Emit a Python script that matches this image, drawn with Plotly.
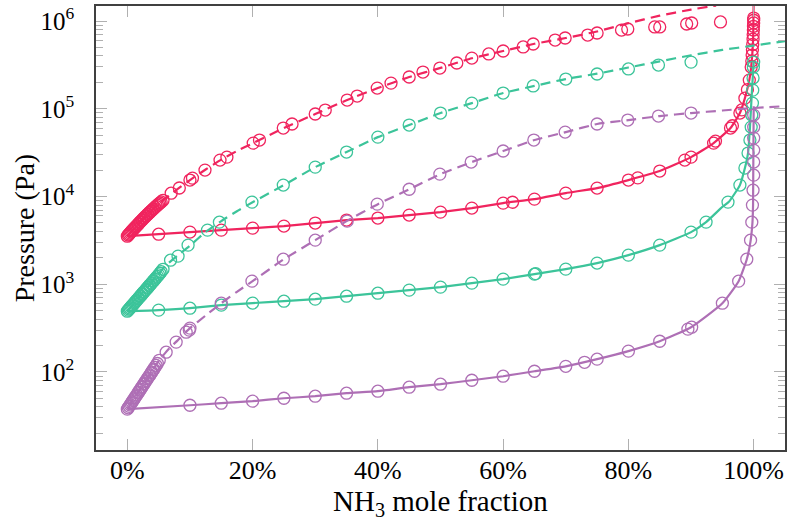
import plotly.graph_objects as go

# NH3 mole fraction in percent, pressure in Pa
RED = "#f0245e"
GREEN = "#3cc49a"
PURPLE = "#ae6fb5"

# ---- red (warmest) ----
red_bub_x = [0, 5, 10, 15, 20, 25, 30, 35, 40, 45, 50, 55, 60, 65, 70, 75, 80, 85, 90,
             93.6, 96.3, 97.8, 98.6, 99.3, 99.6, 99.9, 100]
red_bub_p = [3530, 3720, 3930, 4140, 4360, 4600, 4980, 5390, 5680, 6140, 6640, 7380, 8410,
             9340, 10930, 12470, 15390, 19500, 28100, 40600, 60300, 89300, 132000, 212000,
             300000, 600000, 2000000]
red_dew_x = [0, 1, 2, 3, 4, 5, 6, 7, 8, 10, 12.5, 15, 17.5, 20, 25, 30, 35, 40, 45, 50,
             55, 60, 65, 70, 75, 80, 85, 90, 94]
red_dew_p = [3530, 4250, 5080, 6010, 7050, 8200, 9400, 10700, 12100, 15400, 20300, 26300,
             33000, 40300, 60300, 87100, 125000, 172000, 230000, 292000, 376000, 455000,
             550000, 640000, 760000, 944000, 1150000, 1350000, 1500000]
red_bub_mx = [5, 10, 15, 20, 25, 30, 35, 40, 45, 50, 55, 60, 61.5, 65, 70, 75, 80, 81.5,
              85, 89, 90, 93.6, 93.9, 96.3, 96.6, 97.8, 98.1, 98.6, 99.0, 99.3,
              99.6, 99.7, 99.75, 99.8, 99.85, 99.9, 99.92, 99.95, 99.97, 100, 100, 100]
red_bub_mp = [3720, 3930, 4140, 4360, 4600, 4980, 5390, 5680, 6140, 6640, 7380, 8410, 8600,
              9340, 10930, 12470, 15390, 16300, 19500, 26000, 28100, 40600, 42800, 60300,
              64000, 89300, 97000, 132000, 165000, 212000,
              299000, 350000, 409000, 470000, 540000, 620000, 700000, 790000, 870000,
              950000, 1020000, 1080000]
red_dew_mx = [0.0, 0.15, 0.3, 0.45, 0.6, 0.75, 0.9, 1.05, 1.2, 1.35, 1.5, 1.7, 1.8, 2.0,
              2.1, 2.3, 2.4, 2.6, 2.7, 2.9, 3.0, 3.2, 3.3, 3.5, 3.6, 3.8, 3.9, 4.1, 4.2, 4.4,
              4.6, 4.8, 5.0, 5.2, 5.4, 5.7, 7.0, 8.3, 10.0, 10.4, 12.4, 14.8, 15.9, 20.1,
              21.1, 24.9, 26.3, 30.0, 31.6, 35.1, 36.7, 39.9, 42.1, 45.0, 47.2, 49.9, 52.6,
              55.0, 57.7, 60.0, 63.2, 64.8, 68.3, 69.9, 73.5, 75.0, 78.9, 79.9, 84.2, 85.0,
              89.3, 90.1, 94.7]
red_dew_mp = [3530, 3640, 3740, 3850, 3960, 4070, 4180, 4290, 4400, 4520, 4640, 4800, 4900,
              5080, 5170, 5350, 5440, 5630, 5720, 5910, 6010, 6210, 6310, 6520, 6620, 6830,
              6940, 7160, 7280, 7500, 7730, 7960, 8200, 8430, 8670, 9050, 10900, 12500,
              15400, 16200, 20000, 26000, 28100, 40600, 44000, 60300, 67000, 87100, 96600,
              125600, 139600, 172000, 196000, 230000, 262000, 291000, 332000, 378000,
              421000, 455000, 506000, 547000, 607000, 640000, 692000, 730000, 789000,
              811000, 855000, 855000, 925000, 949000, 975000]

# ---- green ----
green_bub_x = [0, 5, 10, 15, 20, 25, 30, 35, 40, 45, 50, 55, 60, 65, 70, 75, 80, 85, 90,
               92.4, 95, 96, 97.8, 98.6, 99.1, 99.4, 99.7, 100]
green_bub_p = [493, 507, 533, 578, 610, 641, 676, 731, 791, 857, 927, 1030, 1143, 1303, 1486,
               1742, 2148, 2793, 3926, 5105, 7600, 8630, 13490, 21090, 31260, 60000, 150000,
               340000]
green_dew_x = [0, 1, 2, 3, 4, 5, 6, 7, 8, 10, 12.5, 15, 17.5, 20, 25, 30, 35, 40, 45, 50,
               55, 60, 65, 70, 75, 80, 85, 90, 95, 100, 105]
green_dew_p = [493, 600, 730, 890, 1080, 1310, 1600, 1850, 2120, 2750, 3950, 5250, 6800, 8600,
               13500, 21600, 32100, 47500, 65200, 89300, 116000, 151000, 182000, 218000,
               251000, 295000, 347000, 407000, 468000, 525000, 590000]
green_bub_mx = [5, 10, 15, 20, 25, 30, 35, 40, 45, 50, 55, 60, 65, 65.2, 70, 75, 80, 85, 90,
                92.4, 95.9, 97.8, 98.6, 99.1, 99.4, 99.6, 99.7, 99.8, 99.85, 99.9, 99.95, 100]
green_bub_mp = [507, 533, 578, 610, 641, 676, 731, 791, 857, 927, 1030, 1143, 1303, 1320,
                1486, 1742, 2148, 2793, 3926, 5105, 8630, 13490, 21090, 31260, 44000, 61800,
                84700, 116000, 163000, 224000, 298000, 340000]
green_dew_mx = [0.0, 0.15, 0.3, 0.45, 0.6, 0.75, 0.9, 1.05, 1.2, 1.35, 1.5, 1.7, 1.8, 2.0,
                2.1, 2.3, 2.4, 2.6, 2.7, 2.9, 3.0, 3.2, 3.3, 3.5, 3.6, 3.8, 3.9, 4.1, 4.2,
                4.4, 4.6, 4.8, 5.0, 5.2, 5.4, 5.7, 6.9, 8.1, 9.7, 12.8, 14.7, 19.9, 24.9,
                30.0, 35.0, 40.0, 45.0, 50.0, 55.0, 60.0, 64.8, 70.0, 75.0, 80.0, 84.8, 90.0]
green_dew_mp = [493, 507, 522, 537, 553, 569, 585, 602, 620, 638, 656, 682, 695, 722, 736,
                765, 779, 810, 825, 857, 873, 907, 925, 960, 979, 1017, 1037, 1077, 1098,
                1140, 1185, 1230, 1280, 1335, 1390, 1480, 1880, 2090, 2790, 4140, 5100, 8630,
                13490, 21600, 32100, 47500, 65200, 89300, 116000, 151000, 182000, 218000,
                249000, 284000, 315000, 340000]

# ---- purple (coldest) ----
purple_bub_x = [0, 10, 15, 20, 25, 30, 35, 40, 45, 50, 55, 60, 65, 70, 75, 80, 85, 90, 95,
                97.6, 98.9, 99.5, 99.8, 99.9, 100]
purple_bub_p = [37.7, 41.8, 44.1, 46.5, 50.2, 53, 57.3, 60.4, 67.1, 72.6, 80.5, 89.5, 102,
                116, 140, 173, 224, 324, 608, 1084, 1930, 3100, 5000, 8000, 107000]
purple_dew_x = [0, 1, 2, 3, 4, 5, 6, 7, 8, 10, 12.5, 15, 17.5, 20, 25, 30, 35, 40, 45, 50,
                55, 60, 65, 70, 75, 80, 85, 90, 95, 100, 105]
purple_dew_p = [37.7, 48.6, 62.5, 80.5, 104, 134, 163, 196, 228, 316, 440, 608, 820, 1085,
                1930, 3180, 5240, 8180, 12100, 18000, 24700, 33000, 44000, 54200, 67000,
                74300, 82600, 89300, 95500, 102000, 107000]
purple_bub_mx = [10, 15, 20, 25, 30, 35, 40, 45, 50, 55, 60, 65, 70, 73, 75, 80, 85, 89.5,
                 90.1, 95, 97.6, 98.9, 99.5, 99.7, 99.8, 99.9, 100, 100, 100, 100, 100, 100]
purple_bub_mp = [41.8, 44.1, 46.5, 50.2, 53, 57.3, 60.4, 67.1, 72.6, 80.5, 89.5, 102, 116,
                 129, 140, 173, 224, 308, 324, 608, 1084, 1930, 3180, 5100, 7980, 11800,
                 17500, 24700, 33800, 46300, 61800, 84700]
purple_dew_mx = [0.0, 0.15, 0.3, 0.45, 0.6, 0.75, 0.9, 1.05, 1.2, 1.35, 1.5, 1.7, 1.8, 2.0,
                 2.1, 2.3, 2.4, 2.6, 2.7, 2.9, 3.0, 3.2, 3.3, 3.5, 3.6, 3.8, 3.9, 4.1, 4.2,
                 4.4, 4.6, 4.8, 5.1, 6.2, 7.8, 9.4, 9.9, 10.0, 15.0, 19.9, 24.9, 30.0, 35.1,
                 39.9, 45.0, 49.9, 54.9, 60.0, 64.9, 69.9, 75.0, 79.9, 84.8, 90.0]
purple_dew_mp = [37.7, 39.1, 40.6, 42.2, 43.8, 45.5, 47.2, 49.0, 50.9, 52.8, 54.8, 57.7,
                 59.1, 62.2, 63.7, 67.0, 68.6, 72.2, 74.0, 77.8, 79.7, 83.8, 85.9, 90.3,
                 92.6, 97.3, 99.8, 104.9, 107.6, 113.1, 118.8, 124.9, 136, 168, 219, 284,
                 300, 316, 608, 1085, 1930, 3180, 5240, 8180, 12100, 18000, 24700, 33000,
                 44000, 54200, 67000, 74300, 82600, 89300]

x_ticks = [0, 20, 40, 60, 80, 100]
x_ticklabels = ["0%", "20%", "40%", "60%", "80%", "100%"]
y_ticks = [100, 1000, 10000, 100000, 1000000]
y_ticklabels = ["10<sup>2</sup>", "10<sup>3</sup>", "10<sup>4</sup>", "10<sup>5</sup>",
                "10<sup>6</sup>"]

FONT = "Liberation Serif"
TICK_GRAY = "#b0b0b0"

fig = go.Figure()

series = [
    (RED, red_bub_x, red_bub_p, red_dew_x, red_dew_p, red_bub_mx, red_bub_mp, red_dew_mx, red_dew_mp),
    (GREEN, green_bub_x, green_bub_p, green_dew_x, green_dew_p, green_bub_mx, green_bub_mp, green_dew_mx, green_dew_mp),
    (PURPLE, purple_bub_x, purple_bub_p, purple_dew_x, purple_dew_p, purple_bub_mx, purple_bub_mp, purple_dew_mx, purple_dew_mp),
]

for color, bx, bp, dx, dp, bmx, bmp, dmx, dmp in series:
    fig.add_trace(go.Scatter(x=bx, y=bp, mode="lines",
                             line=dict(color=color, width=2.2, shape="spline", smoothing=0.5)))
    fig.add_trace(go.Scatter(x=dx, y=dp, mode="lines",
                             line=dict(color=color, width=2.2, dash="10px,6px", shape="spline",
                                       smoothing=0.5)))
    fig.add_trace(go.Scatter(x=bmx, y=bmp, mode="markers",
                             marker=dict(symbol="circle-open", size=12, color=color,
                                         line=dict(width=1.3, color=color))))
    fig.add_trace(go.Scatter(x=dmx, y=dmp, mode="markers",
                             marker=dict(symbol="circle-open", size=12, color=color,
                                         line=dict(width=1.3, color=color))))

minor_vals = [m * 10 ** e for e in range(1, 7) for m in range(2, 10)]

fig.update_layout(
    width=797,
    height=523,
    margin=dict(l=96, r=12, t=6, b=73),
    paper_bgcolor="white",
    plot_bgcolor="white",
    showlegend=False,
    font=dict(family=FONT, size=26, color="black"),
    xaxis=dict(
        range=[-5, 105],
        tickvals=x_ticks,
        ticktext=x_ticklabels,
        ticks="inside",
        ticklen=11,
        tickwidth=1,
        tickcolor=TICK_GRAY,
        mirror="allticks",
        showline=True,
        linecolor="#404040",
        linewidth=1.5,
        showgrid=False,
        zeroline=False,
        automargin=False,
        tickfont=dict(size=26),
        ticklabelstandoff=-4,
    ),
    yaxis=dict(
        type="log",
        range=[1.111, 6.171],
        tickvals=y_ticks,
        ticktext=y_ticklabels,
        ticks="inside",
        ticklen=11,
        tickwidth=1,
        tickcolor=TICK_GRAY,
        minor=dict(ticks="inside", ticklen=7, tickwidth=1, tickcolor=TICK_GRAY,
                   tickvals=minor_vals, showgrid=False),
        mirror="allticks",
        showline=True,
        linecolor="#404040",
        linewidth=1.5,
        showgrid=False,
        zeroline=False,
        automargin=False,
        tickfont=dict(size=25),
        ticklabelstandoff=15,
    ),
    annotations=[
        dict(text="NH<sub>3</sub> mole fraction", xref="paper", yref="paper",
             x=0.5, y=-0.074, xanchor="center", yanchor="top", showarrow=False,
             font=dict(size=29)),
        dict(text="Pressure (Pa)", xref="paper", yref="paper",
             x=-0.104, y=0.5, xanchor="center", yanchor="middle", textangle=-90,
             showarrow=False, font=dict(size=28)),
    ],
)

fig.write_html("out.html", config={"displayModeBar": False},
               post_script="document.body.style.margin='0px';")
